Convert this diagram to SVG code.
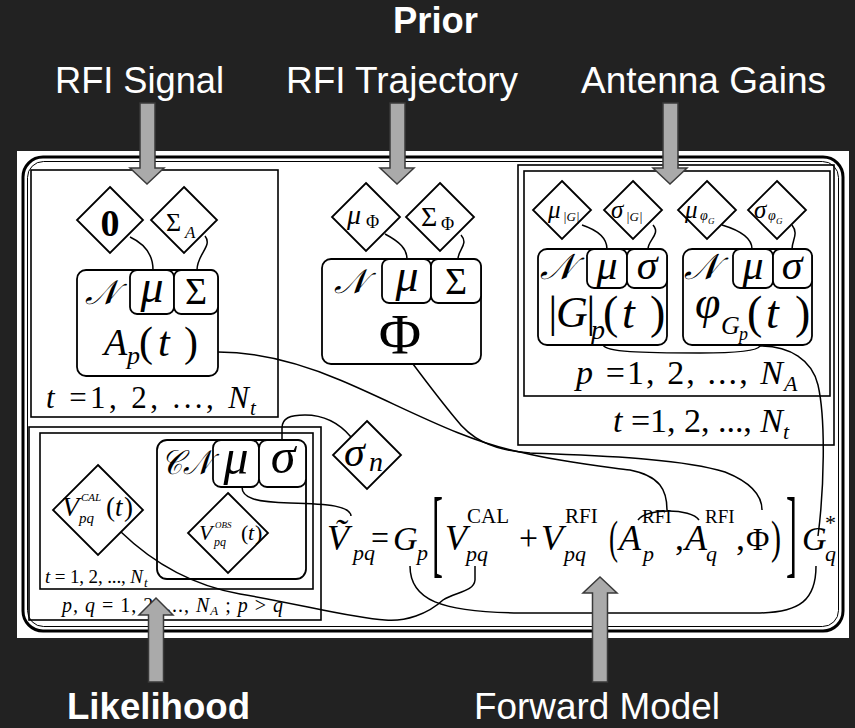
<svg xmlns="http://www.w3.org/2000/svg" width="855" height="728" viewBox="0 0 855 728">
<style>
.lbl{font-family:"Liberation Sans",Arial,sans-serif;fill:#fff;font-size:36px}
.b{font-weight:bold}
.m{font-family:"Liberation Serif","DejaVu Serif",serif;fill:#000}
.i{font-style:italic}
.r{font-style:normal}
.cal{font-family:"DejaVu Serif","Liberation Serif",serif;font-style:italic;fill:#000}
.node{fill:#fff;stroke:#000;stroke-width:1.8}
.plate{fill:none;stroke:#000;stroke-width:1.6}
.conn{fill:none;stroke:#000;stroke-width:1.5}
.arr{fill:#aaa;stroke:#3a3a3a;stroke-width:1.5}
</style>
<rect width="855" height="728" fill="#222"/>
<rect x="17" y="151" width="832" height="487" fill="#fff"/>
<g id="outer-frame">
<rect x="23" y="157" width="820" height="474" rx="20" fill="none" stroke="#000" stroke-width="3"/>
<rect x="27.5" y="161.5" width="811" height="465" rx="16" fill="none" stroke="#000" stroke-width="1"/>
</g>

<!-- Box 1: RFI signal -->
<g id="plate-rfi-signal">
<rect class="plate" x="31" y="170" width="247" height="247"/>
<text class="m" x="46" y="408" font-size="31" textLength="203" lengthAdjust="spacing"><tspan class="i">t</tspan> =1, 2, ..., <tspan class="i">N</tspan></text>
<text class="m i" x="250" y="415" font-size="21">t</text>
</g>
<g id="node-zero">
<polygon class="node" points="110,187 143,220 110,253 77,220"/>
<text class="m" x="110" y="236" font-size="38" font-weight="bold" text-anchor="middle">0</text>
</g>
<g id="node-sigma-a">
<polygon class="node" points="184,187 217,220 184,253 151,220"/>
<text class="m"><tspan x="166" y="231" font-size="26">Σ</tspan><tspan class="i" x="185" y="238" font-size="17">A</tspan></text>
</g>
<g id="node-a">
<rect class="node" x="77" y="270" width="141" height="106" rx="9"/>
<rect class="node" x="130" y="270" width="44" height="44" rx="7"/>
<rect class="node" x="174" y="270" width="44" height="44" rx="7"/>
<text class="cal" x="85" y="304" font-size="34">𝒩</text>
<text class="m i" x="152" y="302" font-size="46" text-anchor="middle">μ</text>
<text class="m" x="196" y="304" font-size="38" text-anchor="middle">Σ</text>
<text class="m"><tspan class="i" x="104" y="355" font-size="38">A</tspan><tspan class="i" x="127" y="364" font-size="26">p</tspan><tspan x="139" y="356" font-size="42">(</tspan><tspan class="i" x="158" y="356" font-size="42">t</tspan><tspan x="184" y="356" font-size="42">)</tspan></text>
</g>

<!-- Box 2: RFI trajectory -->
<g id="node-mu-phi">
<polygon class="node" points="366,183 400,217 366,251 332,217"/>
<text class="m"><tspan class="i" x="347" y="224" font-size="28">μ</tspan><tspan x="366" y="228" font-size="18">Φ</tspan></text>
</g>
<g id="node-sigma-phi">
<polygon class="node" points="440,183 474,217 440,251 406,217"/>
<text class="m"><tspan x="421" y="226" font-size="28">Σ</tspan><tspan x="441" y="230" font-size="18">Φ</tspan></text>
</g>
<g id="node-phi">
<rect class="node" x="322" y="259" width="159" height="105" rx="9"/>
<rect class="node" x="382" y="259" width="49" height="44" rx="7"/>
<rect class="node" x="431" y="259" width="50" height="44" rx="7"/>
<text class="cal" x="334" y="293" font-size="34">𝒩</text>
<text class="m i" x="407" y="291" font-size="46" text-anchor="middle">μ</text>
<text class="m" x="456" y="294" font-size="38" text-anchor="middle">Σ</text>
<text class="m" x="400" y="354" font-size="58" text-anchor="middle">Φ</text>
</g>

<!-- Box 3: antenna gains -->
<g id="plate-antenna-t">
<rect class="plate" x="518" y="165" width="316" height="280"/>
<text class="m" x="613" y="432" font-size="34" textLength="170" lengthAdjust="spacing"><tspan class="i">t</tspan> =1, 2, ..., <tspan class="i">N</tspan></text>
<text class="m i" x="783" y="439" font-size="22">t</text>
</g>
<g id="plate-antenna-p">
<rect class="plate" x="524" y="171" width="306" height="225"/>
<text class="m" x="576" y="384" font-size="34" textLength="207" lengthAdjust="spacing"><tspan class="i">p</tspan> =1, 2, ..., <tspan class="i">N</tspan></text>
<text class="m i" x="784" y="391" font-size="22">A</text>
</g>
<g id="node-mu-g">
<polygon class="node" points="562,181 591,210 562,239 533,210"/>
<text class="m i"><tspan x="548" y="218" font-size="25">μ</tspan><tspan x="563" y="221" font-size="13">|G|</tspan></text>
</g>
<g id="node-sigma-g">
<polygon class="node" points="633,181 662,210 633,239 604,210"/>
<text class="m i"><tspan x="611" y="218" font-size="25">σ</tspan><tspan x="626" y="221" font-size="13">|G|</tspan></text>
</g>
<g id="node-mu-phig">
<polygon class="node" points="707,181 736,210 707,239 678,210"/>
<text class="m i"><tspan x="685" y="218" font-size="25">μ</tspan><tspan x="700" y="220" font-size="14">φ</tspan><tspan x="708" y="224" font-size="9">G</tspan></text>
</g>
<g id="node-sigma-phig">
<polygon class="node" points="777,181 806,210 777,239 748,210"/>
<text class="m i"><tspan x="754" y="218" font-size="25">σ</tspan><tspan x="768" y="220" font-size="14">φ</tspan><tspan x="776" y="224" font-size="9">G</tspan></text>
</g>
<g id="node-gabs">
<rect class="node" x="538" y="249" width="129" height="96" rx="9"/>
<rect class="node" x="587" y="249" width="40" height="39" rx="7"/>
<rect class="node" x="627" y="249" width="40" height="39" rx="7"/>
<text class="cal" x="540" y="279" font-size="36">𝒩</text>
<text class="m i" x="607" y="279" font-size="42" text-anchor="middle">μ</text>
<text class="m i" x="647" y="279" font-size="42" text-anchor="middle">σ</text>
<text class="m"><tspan class="i" x="546" y="327" font-size="44">|</tspan><tspan class="i" x="556" y="327" font-size="44">G</tspan><tspan class="i" x="584" y="327" font-size="44">|</tspan><tspan class="i" x="591" y="339" font-size="28">p</tspan><tspan x="603" y="328" font-size="46">(</tspan><tspan class="i" x="622" y="328" font-size="46">t</tspan><tspan x="650" y="328" font-size="46">)</tspan></text>
</g>
<g id="node-gphase">
<rect class="node" x="683" y="249" width="129" height="96" rx="9"/>
<rect class="node" x="733" y="249" width="40" height="39" rx="7"/>
<rect class="node" x="773" y="249" width="39" height="39" rx="7"/>
<text class="cal" x="684" y="279" font-size="36">𝒩</text>
<text class="m i" x="753" y="279" font-size="42" text-anchor="middle">μ</text>
<text class="m i" x="792" y="279" font-size="42" text-anchor="middle">σ</text>
<text class="m"><tspan class="i" x="695" y="318" font-size="46">φ</tspan><tspan class="i" x="721" y="334" font-size="26">G</tspan><tspan class="i" x="739" y="340" font-size="18">p</tspan><tspan x="747" y="328" font-size="46">(</tspan><tspan class="i" x="766" y="328" font-size="46">t</tspan><tspan x="795" y="328" font-size="46">)</tspan></text>
</g>

<!-- Box 4: likelihood -->
<g id="plate-likelihood-pq">
<rect class="plate" x="29" y="427" width="292" height="193"/>
<text class="m" x="62" y="612" font-size="20" textLength="221" lengthAdjust="spacing"><tspan class="i">p, q</tspan> = 1, 2, ..., <tspan class="i">N</tspan><tspan class="i" font-size="13" dy="3">A</tspan><tspan dy="-3"> ; </tspan><tspan class="i">p</tspan> &gt; <tspan class="i">q</tspan></text>
</g>
<g id="plate-likelihood-t">
<rect class="plate" x="40" y="433" width="273" height="156"/>
<text class="m" x="45" y="583" font-size="19" textLength="98" lengthAdjust="spacing"><tspan class="i">t</tspan> = 1, 2, ..., <tspan class="i">N</tspan></text>
<text class="m i" x="144" y="587" font-size="13">t</text>
</g>
<g id="node-vcal">
<polygon class="node" points="98,465 143,510 98,555 53,510"/>
<text class="m"><tspan class="i" x="62" y="516" font-size="28">V</tspan><tspan class="i" x="81" y="501" font-size="11">CAL</tspan><tspan class="i" x="79" y="523" font-size="15">pq</tspan><tspan x="106" y="516" font-size="27">(</tspan><tspan class="i" x="115" y="516" font-size="27">t</tspan><tspan x="124" y="516" font-size="27">)</tspan></text>
</g>
<g id="node-cn">
<rect class="node" x="157" y="440" width="149" height="139" rx="10"/>
<rect class="node" x="213" y="440" width="46" height="47" rx="8"/>
<rect class="node" x="259" y="440" width="47" height="47" rx="8"/>
<text class="cal" x="161" y="474" font-size="34" textLength="50" lengthAdjust="spacingAndGlyphs">𝒞𝒩</text>
<text class="m i" x="236" y="474" font-size="50" text-anchor="middle">μ</text>
<text class="m i" x="283" y="473" font-size="50" text-anchor="middle">σ</text>
</g>
<g id="node-vobs">
<polygon class="node" points="228,493 268,533 228,573 188,533"/>
<text class="m"><tspan class="i" x="199" y="540" font-size="22">V</tspan><tspan class="i" x="215" y="528" font-size="9">OBS</tspan><tspan class="i" x="214" y="546" font-size="12">pq</tspan><tspan x="241" y="540" font-size="22">(</tspan><tspan class="i" x="248" y="540" font-size="22">t</tspan><tspan x="255" y="540" font-size="22">)</tspan></text>
</g>
<g id="node-sigma-n">
<polygon class="node" points="367,421 401,455 367,489 333,455"/>
<text class="m i"><tspan x="344" y="466" font-size="42">σ</tspan><tspan x="369" y="471" font-size="28">n</tspan></text>
</g>

<!-- Forward model equation -->
<g id="node-forward-model" class="m">
<text class="i"><tspan x="327" y="550" font-size="36">Ṽ</tspan><tspan x="353" y="560" font-size="22">pq</tspan></text>
<text x="371" y="550" font-size="36" textLength="18" lengthAdjust="spacingAndGlyphs">=</text>
<text class="i"><tspan x="393" y="550" font-size="34">G</tspan><tspan x="417" y="560" font-size="22">p</tspan></text>
<text x="432" y="565" font-size="98" textLength="11" lengthAdjust="spacingAndGlyphs">[</text>
<text class="i"><tspan x="445" y="550" font-size="36">V</tspan><tspan class="r" x="467" y="523" font-size="21">CAL</tspan><tspan x="466" y="561" font-size="22">pq</tspan></text>
<text x="519" y="550" font-size="36" textLength="19" lengthAdjust="spacingAndGlyphs">+</text>
<text class="i"><tspan x="541" y="550" font-size="36">V</tspan><tspan class="r" x="565" y="523" font-size="21">RFI</tspan><tspan x="564" y="561" font-size="22">pq</tspan></text>
<text x="609" y="553" font-size="46" textLength="9" lengthAdjust="spacingAndGlyphs">(</text>
<text class="i"><tspan x="619" y="550" font-size="36">A</tspan><tspan class="r" x="642" y="523" font-size="19">RFI</tspan><tspan x="643" y="561" font-size="22">p</tspan></text>
<text x="675" y="550" font-size="36">,</text>
<text class="i"><tspan x="685" y="550" font-size="36">A</tspan><tspan class="r" x="705" y="523" font-size="19">RFI</tspan><tspan x="706" y="561" font-size="22">q</tspan></text>
<text x="736" y="550" font-size="36">,</text>
<text x="746" y="550" font-size="32">Φ</text>
<text x="771" y="553" font-size="46" textLength="10" lengthAdjust="spacingAndGlyphs">)</text>
<text x="786" y="565" font-size="98" textLength="11" lengthAdjust="spacingAndGlyphs">]</text>
<text class="i"><tspan x="802" y="550" font-size="34">G</tspan><tspan class="r" x="825" y="530" font-size="22">*</tspan><tspan x="825" y="561" font-size="22">q</tspan></text>
</g>

<!-- Connectors -->
<g id="connectors" class="conn">
<path class="conn" d="M130,237 C145,244 153,254 153,270"/>
<path class="conn" d="M205,236 C213,246 197,254 197,270"/>
<path class="conn" d="M385,234 C400,242 407,249 407,259"/>
<path class="conn" d="M461,235 C469,244 458,250 458,259"/>
<path class="conn" d="M582,225 C600,231 607,239 607,249"/>
<path class="conn" d="M653,225 C661,234 648,240 648,249"/>
<path class="conn" d="M722,225 C742,231 752,239 752,249"/>
<path class="conn" d="M792,225 C799,234 792,240 792,249"/>
<path class="conn" d="M603,345 C606,352 640,353 700,353 C745,353 758,350 760,346"/>
<path class="conn" d="M760,346 C790,346 812,360 818,385 C826,420 824,490 818,536"/>
<path class="conn" d="M218,352 C260,352 300,363 340,380 C400,405 460,440 520,452 C560,462 600,466 630,470 C660,476 667,490 667,510"/>
<path class="conn" d="M638,520 C646,508 691,508 699,520"/>
<path class="conn" d="M413,364 C425,380 440,400 455,418 C470,438 490,450 530,453 C600,456 680,458 725,472 C750,482 762,495 762,510"/>
<path class="conn" d="M282,440 L282,428 C282,418 290,415 305,415 C325,415 340,424 351,437"/>
<path class="conn" d="M242,487 C242,498 255,502 290,503 C330,504 350,506 351,516"/>
<path class="conn" d="M121,532 C150,560 190,585 240,594 C300,604 350,618 385,620 C405,622 428,614 443,600 C455,592 474,592 475,580 L475,566"/>
<path class="conn" d="M410,566 C410,600 440,612 520,613 L760,613 C800,612 816,600 816,566"/>
</g>

<!-- Labels and arrows -->
<g id="labels">
<text class="lbl b" x="393" y="33" font-size="34" textLength="85" lengthAdjust="spacingAndGlyphs">Prior</text>
<text class="lbl" x="55" y="93" textLength="169" lengthAdjust="spacingAndGlyphs">RFI Signal</text>
<text class="lbl" x="286" y="93" textLength="232" lengthAdjust="spacingAndGlyphs">RFI Trajectory</text>
<text class="lbl" x="581" y="93" textLength="245" lengthAdjust="spacingAndGlyphs">Antenna Gains</text>
<text class="lbl b" x="67" y="719" textLength="183" lengthAdjust="spacingAndGlyphs">Likelihood</text>
<text class="lbl" x="474" y="719" textLength="246" lengthAdjust="spacingAndGlyphs">Forward Model</text>
</g>
<g id="arrows">
<polygon class="arr" points="140,103 155,103 155,168 164,168 147,184 130,168 140,168"/>
<polygon class="arr" points="390,103 405,103 405,168 414,168 397,184 380,168 390,168"/>
<polygon class="arr" points="663,103 678,103 678,168 687,168 670,184 653,168 663,168"/>
<polygon class="arr" points="148.5,682 163.5,682 163.5,615 173,615 156,598 139,615 148.5,615"/>
<polygon class="arr" points="592.5,682 607.5,682 607.5,593 617,593 600,577 583,593 592.5,593"/>
</g>
</svg>
